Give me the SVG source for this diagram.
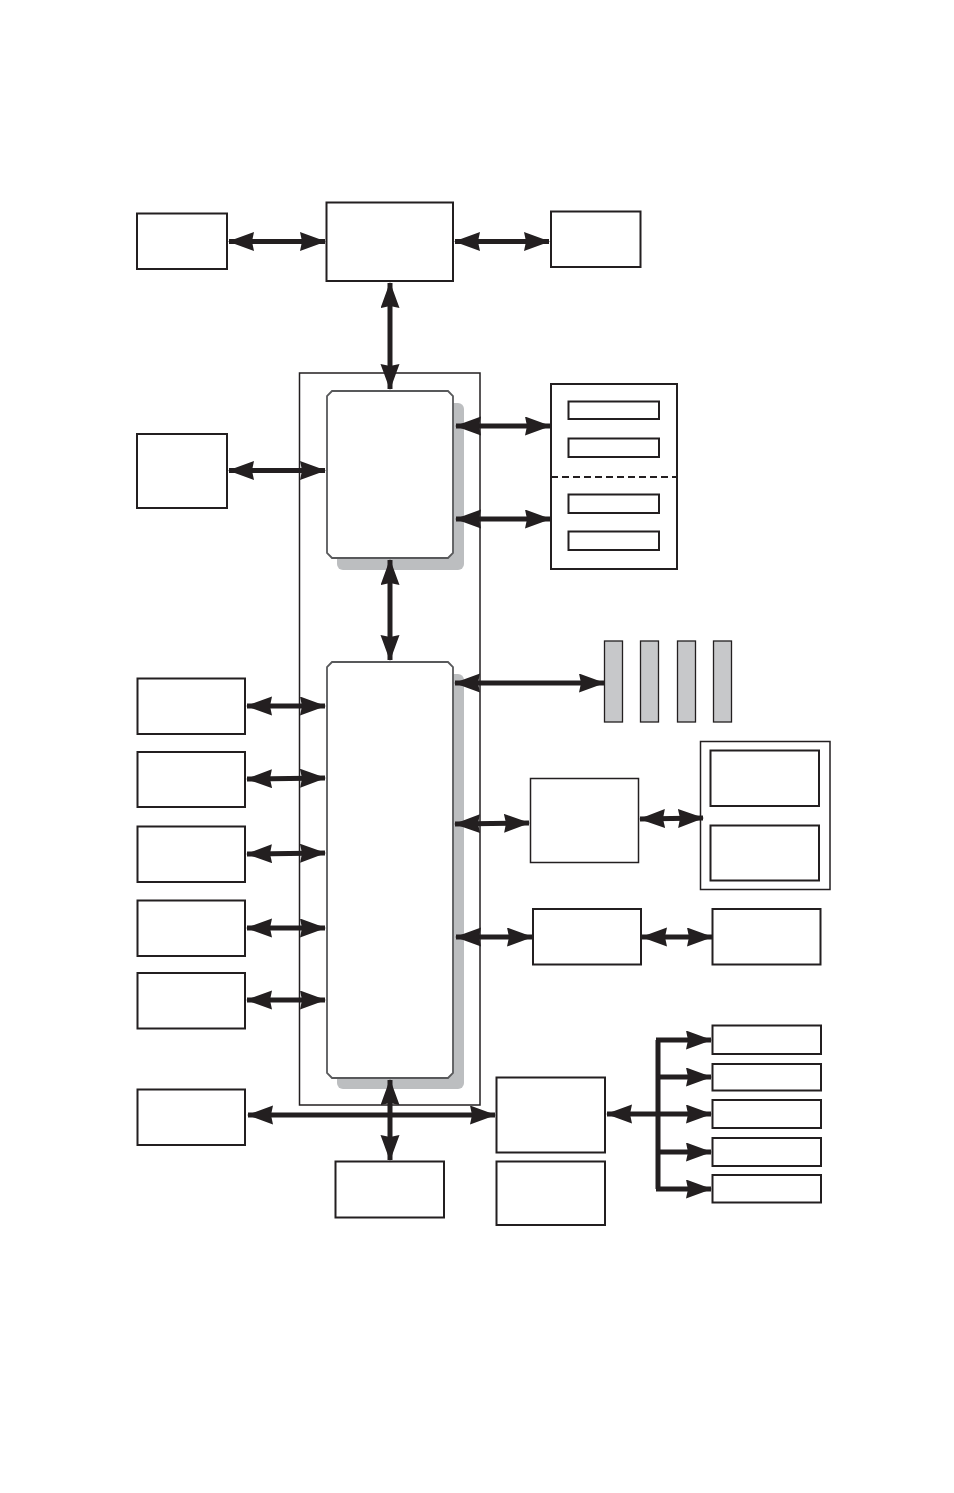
<svg xmlns="http://www.w3.org/2000/svg" width="954" height="1493" viewBox="0 0 954 1493">
<style>
.box{fill:#fff;stroke:#231f20;stroke-width:2}
.thin{fill:none;stroke:#231f20;stroke-width:1.5}
.chip{fill:#fff;stroke:#58595b;stroke-width:1.8}
.shadow{fill:#bcbec0}
.slot{fill:#c7c8ca;stroke:#231f20;stroke-width:1.3}
.ln{fill:none;stroke:#231f20;stroke-width:5}
.ab{marker-start:url(#ah);marker-end:url(#ah)}
.ae{marker-end:url(#ah)}
</style>
<defs>
<marker id="ah" markerUnits="userSpaceOnUse" markerWidth="28" markerHeight="20" refX="25" refY="9.5" orient="auto-start-reverse" viewBox="0 0 28 20">
<path d="M0,0 L26,9.5 L0,19 L2,9.5 z" fill="#231f20"/>
</marker>
</defs>
<rect width="954" height="1493" fill="#fff"/>
<g id="container"><rect class="thin" x="299.5" y="373" width="180.5" height="732"/></g>
<g id="chip1">
<rect class="shadow" x="337" y="403" width="127" height="167" rx="6"/>
<path class="chip" d="M332,391 H448 L453,396 V553 L448,558 H332 L327,553 V396 Z"/>
</g>
<g id="chip2">
<rect class="shadow" x="337" y="674" width="127" height="415" rx="6"/>
<path class="chip" d="M332,662 H448 L453,667 V1073 L448,1078 H332 L327,1073 V667 Z"/>
</g>
<g id="n_tl"><rect class="box" x="137" y="213.5" width="90" height="55.5"/></g>
<g id="n_top"><rect class="box" x="326.5" y="202.5" width="126.5" height="78.5"/></g>
<g id="n_tr"><rect class="box" x="551" y="211.5" width="89.5" height="55.5"/></g>
<g id="n_l1"><rect class="box" x="137" y="434" width="90" height="74"/></g>
<g id="n_mem">
<rect class="box" x="551" y="384" width="126" height="185"/>
<line x1="551" y1="477" x2="677" y2="477" stroke="#231f20" stroke-width="1.8" stroke-dasharray="7,4"/>
<rect class="box" x="568.5" y="401.5" width="90.5" height="17.5"/>
<rect class="box" x="568.5" y="438.5" width="90.5" height="18.5"/>
<rect class="box" x="568.5" y="494.5" width="90.5" height="18.5"/>
<rect class="box" x="568.5" y="531.5" width="90.5" height="18.5"/>
</g>
<g id="n_slots">
<rect class="slot" x="604.5" y="641" width="18" height="81"/>
<rect class="slot" x="640.5" y="641" width="18" height="81"/>
<rect class="slot" x="677.5" y="641" width="18" height="81"/>
<rect class="slot" x="713.5" y="641" width="18" height="81"/>
</g>
<g id="n_m1"><rect class="thin" x="530.5" y="778.5" width="108" height="84"/></g>
<g id="n_grp">
<rect class="thin" x="700.5" y="741.5" width="129.5" height="148"/>
<rect class="box" x="710.5" y="750.5" width="108.5" height="55.5"/>
<rect class="box" x="710.5" y="825.5" width="108.5" height="55"/>
</g>
<g id="n_m2"><rect class="box" x="533" y="909" width="108" height="55.5"/></g>
<g id="n_m3"><rect class="box" x="712.5" y="909" width="108" height="55.5"/></g>
<g id="n_L1"><rect class="box" x="137.5" y="678.5" width="107.5" height="55.5"/></g>
<g id="n_L2"><rect class="box" x="137.5" y="752" width="107.5" height="55"/></g>
<g id="n_L3"><rect class="box" x="137.5" y="826.5" width="107.5" height="55.5"/></g>
<g id="n_L4"><rect class="box" x="137.5" y="900.5" width="107.5" height="55.5"/></g>
<g id="n_L5"><rect class="box" x="137.5" y="973" width="107.5" height="55.5"/></g>
<g id="n_L6"><rect class="box" x="137.5" y="1089.5" width="107.5" height="55.5"/></g>
<g id="n_bot"><rect class="box" x="335.5" y="1161.5" width="108.5" height="56"/></g>
<g id="n_hub"><rect class="box" x="496.5" y="1077.5" width="108.5" height="75"/></g>
<g id="n_hub2"><rect class="box" x="496.5" y="1161.5" width="108.5" height="63.5"/></g>
<g id="n_r1"><rect class="box" x="712.5" y="1025.5" width="108.5" height="28.5"/></g>
<g id="n_r2"><rect class="box" x="712.5" y="1064" width="108.5" height="26.5"/></g>
<g id="n_r3"><rect class="box" x="712.5" y="1100" width="108.5" height="28"/></g>
<g id="n_r4"><rect class="box" x="712.5" y="1138" width="108.5" height="28"/></g>
<g id="n_r5"><rect class="box" x="712.5" y="1175" width="108.5" height="27.5"/></g>
<g id="connectors">
<line class="ln ab" x1="229" y1="241.5" x2="325" y2="241.5"/>
<line class="ln ab" x1="455" y1="241.5" x2="549" y2="241.5"/>
<line class="ln ab" x1="390" y1="283" x2="390" y2="389"/>
<line class="ln ab" x1="229" y1="470.5" x2="325" y2="470.5"/>
<line class="ln ab" x1="456" y1="426" x2="550" y2="426"/>
<line class="ln ab" x1="456" y1="519" x2="550" y2="519"/>
<line class="ln ab" x1="390" y1="560" x2="390" y2="660"/>
<line class="ln ab" x1="455" y1="683" x2="604" y2="683"/>
<line class="ln ab" x1="455" y1="824" x2="529" y2="823"/>
<line class="ln ab" x1="640" y1="819" x2="703" y2="818"/>
<line class="ln ab" x1="456" y1="937" x2="532" y2="937"/>
<line class="ln ab" x1="642" y1="937" x2="712" y2="937"/>
<line class="ln ab" x1="247" y1="706" x2="325" y2="706"/>
<line class="ln ab" x1="247" y1="779" x2="325" y2="778"/>
<line class="ln ab" x1="247" y1="854" x2="325" y2="853"/>
<line class="ln ab" x1="247" y1="928" x2="325" y2="928"/>
<line class="ln ab" x1="247" y1="1000" x2="325" y2="1000"/>
<line class="ln ab" x1="248" y1="1115" x2="495" y2="1115"/>
<line class="ln ab" x1="390" y1="1080" x2="390" y2="1160"/>
<line class="ln" x1="607" y1="1114" x2="658" y2="1114" marker-start="url(#ah)"/>
<path class="ln" d="M658,1040 V1189" stroke-linejoin="round"/>
<line class="ln ae" x1="656" y1="1040" x2="711" y2="1040"/>
<line class="ln ae" x1="656" y1="1077" x2="711" y2="1077"/>
<line class="ln ae" x1="656" y1="1114" x2="711" y2="1114"/>
<line class="ln ae" x1="656" y1="1152" x2="711" y2="1152"/>
<line class="ln ae" x1="656" y1="1189" x2="711" y2="1189"/>
</g>
</svg>
